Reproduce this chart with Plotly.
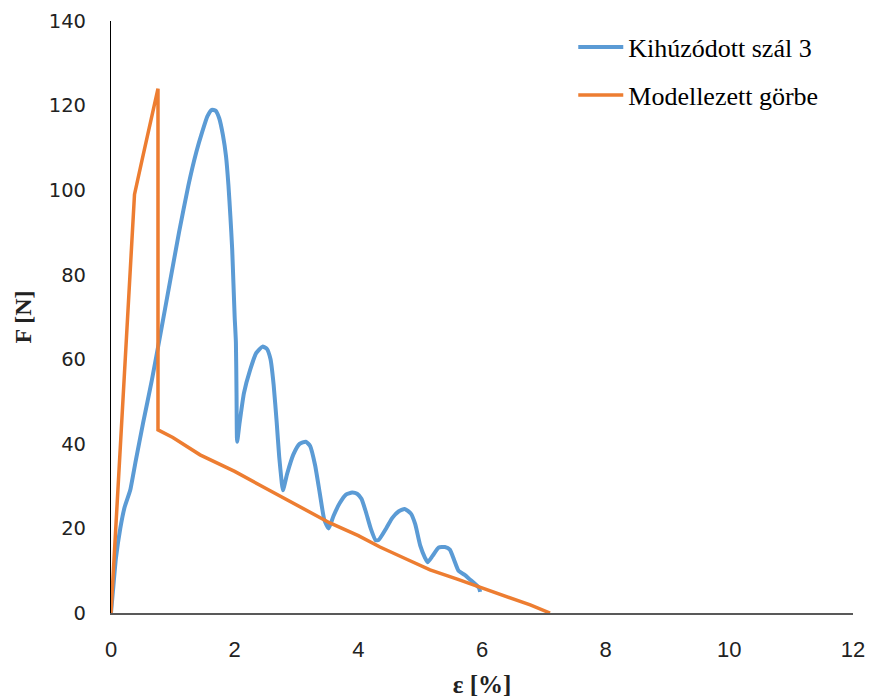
import plotly.graph_objects as go

# Measured curve: Kihúzódott szál 3
blue_x = [0, 0.03, 0.08, 0.15, 0.22, 0.31, 0.4, 0.52, 0.66, 0.8, 0.95, 1.1, 1.25, 1.38, 1.48,
          1.56, 1.63, 1.69, 1.75, 1.81, 1.86, 1.9, 1.93, 1.96, 1.98, 2.0, 2.02, 2.03, 2.04,
          2.08, 2.15, 2.25, 2.35, 2.45, 2.52, 2.58, 2.63, 2.68, 2.72, 2.76, 2.78,
          2.85, 2.95, 3.05, 3.15, 3.22, 3.3, 3.38, 3.45, 3.52,
          3.6, 3.7, 3.8, 3.9, 3.98, 4.05, 4.12, 4.2, 4.28, 4.33,
          4.45, 4.55, 4.65, 4.75, 4.85, 4.92, 5.0, 5.08, 5.12,
          5.2, 5.3, 5.4, 5.48, 5.55, 5.62, 5.72, 5.8, 5.88, 5.95, 5.97]
blue_y = [0, 5, 13, 20, 25, 29, 36, 45, 55, 66, 78, 90, 101, 109, 114,
          117.5, 119, 118.8, 117, 113, 108, 101, 94, 86, 78, 70, 64, 52, 40.5,
          45, 52, 57.5, 61.5, 63, 62.5, 60, 54, 45, 37, 31, 29,
          33, 37.5, 40, 40.5, 39.5, 35, 28, 22, 20,
          23, 26, 28, 28.5, 28.2, 27, 24, 20, 17.2, 17.3,
          20, 22.5, 24, 24.6, 23.5, 21, 16, 13, 12,
          13.5, 15.5, 15.6, 15, 12.5, 10, 9, 8, 7, 6, 5]

# Model curve: Modellezett görbe
orange_x = [0, 0.21, 0.38, 0.5, 0.62, 0.76, 0.76, 1.0, 1.44, 2.0, 2.5, 3.0, 3.54, 4.0, 4.35,
            4.8, 5.16, 5.6, 5.97, 6.4, 6.78, 7.1]
orange_y = [0, 55, 99, 107, 115, 124, 43.3, 41.5, 37.4, 33.5, 29.5, 25.5, 21.3, 18.3, 15.6,
            12.6, 10.2, 8.0, 6.1, 3.8, 1.9, 0]

x_ticks = [0, 2, 4, 6, 8, 10, 12]
y_ticks = [0, 20, 40, 60, 80, 100, 120, 140]

fig = go.Figure()
fig.add_trace(go.Scatter(x=blue_x, y=blue_y, mode="lines", name="Kihúzódott szál 3",
                         line=dict(color="#5B9BD5", width=4, shape="spline", smoothing=0.5),
                         legend="legend"))
fig.add_trace(go.Scatter(x=orange_x, y=orange_y, mode="lines", name="Modellezett görbe",
                         line=dict(color="#ED7D31", width=3.5), legend="legend2"))

legend_font = dict(family="Liberation Serif, Times New Roman, serif", size=26, color="#000000")
fig.update_layout(
    width=873, height=699,
    margin=dict(l=111, r=20, t=21, b=86),
    paper_bgcolor="white", plot_bgcolor="white",
    showlegend=True,
    legend=dict(x=0.623, y=0.956, xanchor="left", yanchor="middle", font=legend_font,
                bgcolor="rgba(0,0,0,0)", itemwidth=45, visible=True),
    legend2=dict(x=0.623, y=0.875, xanchor="left", yanchor="middle", font=legend_font,
                 bgcolor="rgba(0,0,0,0)", itemwidth=45, visible=True),
    xaxis=dict(range=[0, 12], tickvals=x_ticks, ticktext=[str(v) for v in x_ticks],
               showgrid=False, zeroline=False, showline=True, linecolor="#595959", linewidth=2,
               ticks="", ticklabelstandoff=16, automargin=False,
               tickfont=dict(family="Liberation Sans, Arial, sans-serif", size=22, color="#222222"),
               title=dict(text="<b>ε [%]</b>", standoff=14,
                          font=dict(family="Liberation Serif, Times New Roman, serif", size=25,
                                    color="#222222"))),
    yaxis=dict(range=[0, 140], tickvals=y_ticks, ticktext=[str(v) for v in y_ticks],
               showgrid=False, zeroline=False, showline=True, linecolor="#000000", linewidth=1.2,
               ticks="", ticklabelstandoff=20, automargin=False,
               tickfont=dict(family="DejaVu Sans, Verdana, sans-serif", size=19.5, color="#222222"),
               title=dict(text="<b>F [N]</b>", standoff=10,
                          font=dict(family="Liberation Serif, Times New Roman, serif", size=24,
                                    color="#222222"))),
)

fig.write_html("out.html")
